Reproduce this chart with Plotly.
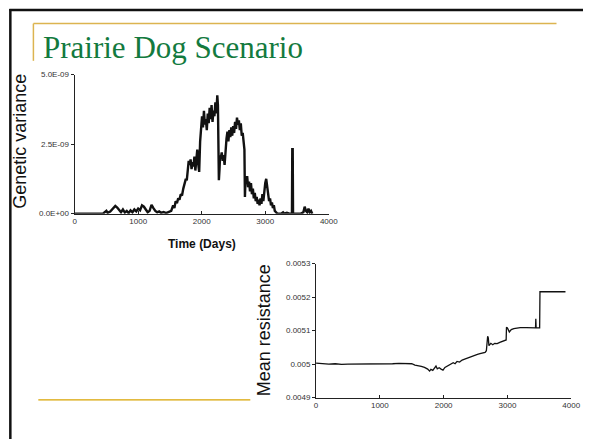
import numpy as np
import plotly.graph_objects as go

# ---- Data: Genetic variance (units of 1e-9) ----
gv_days = [0, 350, 400, 450, 500, 520, 560, 600, 640, 670, 700, 730, 760, 790, 820, 850, 880, 910, 940, 970,
           1000, 1030, 1060, 1090, 1120, 1150, 1180, 1210, 1240, 1270, 1300, 1330, 1360, 1400, 1440, 1480,
           1520, 1550, 1570, 1590, 1610, 1630, 1650, 1670, 1690, 1710, 1730, 1750, 1765, 1780, 1795, 1810,
           1825, 1840, 1855, 1870, 1885, 1900, 1915, 1930, 1945, 1960, 1975, 1990, 2005, 2020, 2035, 2050,
           2065, 2080, 2095, 2110, 2125, 2140, 2155, 2170, 2185, 2200, 2215, 2230, 2245, 2255, 2262, 2270,
           2280, 2290, 2300, 2315, 2330, 2345, 2360, 2375, 2390, 2405, 2420, 2435, 2450, 2465, 2480, 2495,
           2510, 2525, 2540, 2555, 2570, 2585, 2600, 2615, 2630, 2645, 2660, 2672, 2680, 2690, 2700, 2715,
           2730, 2745, 2760, 2775, 2790, 2805, 2820, 2835, 2850, 2865, 2880, 2895, 2910, 2925, 2940, 2955,
           2970, 2985, 3000, 3015, 3030, 3045, 3060, 3075, 3090, 3105, 3120, 3135, 3150, 3170, 3190, 3250,
           3280, 3300, 3340, 3380, 3420, 3425, 3432, 3437, 3500, 3560, 3600, 3620, 3640, 3660, 3680, 3700,
           3720, 3740]
gv_e9 = [0, 0, 0.02, 0.01, 0.1, 0.03, 0.08, 0.2, 0.28, 0.22, 0.12, 0.05, 0.15, 0.04, 0.1, 0.02, 0.12, 0.05, 0.15, 0.08,
         0.18, 0.12, 0.3, 0.25, 0.15, 0.05, 0.1, 0.32, 0.2, 0.1, 0.05, 0.08, 0.03, 0.06, 0.02, 0.05,
         0.1, 0.3, 0.2, 0.45, 0.38, 0.55, 0.5, 0.7, 0.65, 0.9, 1.05, 1.25, 1.2, 1.6, 1.9, 1.75,
         1.95, 1.6, 1.85, 1.7, 2.05, 1.55, 1.9, 2.3, 1.8, 1.5, 2.6, 3.0, 3.5, 3.1, 3.7, 3.2,
         3.4, 3.0, 3.6, 3.25, 3.8, 3.4, 3.9, 3.3, 3.7, 3.5, 4.0, 3.6, 4.25, 3.9, 3.0, 1.2,
         1.6, 2.1, 2.0, 2.2, 1.9, 2.1, 1.75, 2.3, 2.7, 2.95, 2.6, 3.0, 2.75, 3.1, 2.8, 3.15,
         2.9, 3.3, 3.05, 3.45, 3.2, 3.35, 3.0, 3.25, 2.8, 2.9, 2.4, 2.3, 0.6, 1.3, 1.1, 1.35,
         0.95, 1.15, 0.8, 1.1, 0.7, 0.9, 0.55, 0.75, 0.45, 0.6, 0.35, 0.5, 0.3, 0.55, 0.35, 0.7,
         0.45, 0.9, 1.1, 1.25, 0.9, 0.6, 0.45, 0.55, 0.3, 0.4, 0.2, 0.3, 0.1, 0.05, 0, 0,
         0.05, 0, 0.03, 0, 0, 2.32, 2.32, 0, 0, 0, 0.05, 0.25, 0.1, 0.05, 0.18, 0.05,
         0.1, 0]

# ---- Data: Mean resistance ----
mr_days = [0, 100, 200, 300, 400, 500, 600, 700, 800, 900, 1000, 1100, 1200, 1300, 1400, 1500, 1550, 1600,
           1650, 1700, 1750, 1780, 1800, 1830, 1860, 1880, 1900, 1930, 1960, 1990, 2020, 2050, 2080, 2110,
           2150, 2180, 2210, 2250, 2290, 2330, 2370, 2410, 2450, 2490, 2530, 2570, 2610, 2650, 2670, 2680,
           2690, 2700, 2710, 2740, 2770, 2800, 2840, 2880, 2920, 2960, 2980, 2985, 3000, 3030, 3060, 3100,
           3150, 3200, 3300, 3400, 3440, 3445, 3450, 3505, 3510, 3910]
mr_vals = [0.005003, 0.005001, 0.005000, 0.005001, 0.004999, 0.005000, 0.005000, 0.005001, 0.004999, 0.005000,
           0.004999, 0.005000, 0.005001, 0.005002, 0.005002, 0.005001, 0.004997, 0.004996, 0.004993, 0.004990,
           0.004985, 0.004979, 0.004984, 0.004981, 0.004988, 0.004994, 0.004986, 0.004989, 0.004985, 0.004982,
           0.004990, 0.004993, 0.004996, 0.004999, 0.005004, 0.005001, 0.005008, 0.005006, 0.005012, 0.005015,
           0.005018, 0.005022, 0.005024, 0.005027, 0.005029, 0.005031, 0.005033, 0.005035, 0.005040, 0.005060,
           0.005083, 0.005078, 0.005055, 0.005062, 0.005058, 0.005062, 0.005061, 0.005065, 0.005067, 0.005070,
           0.005072, 0.005110, 0.005108, 0.005096, 0.005103, 0.005106, 0.005108, 0.005109, 0.005109, 0.005108,
           0.005108, 0.005135, 0.005108, 0.005108, 0.005216, 0.005216]

x_ticks = [0, 1000, 2000, 3000, 4000]
gv_ticks = [0, 2.5e-9, 5e-9]
gv_ticklabels = ["0.0E+00", "2.5E-09", "5.0E-09"]
mr_ticks = [0.0049, 0.005, 0.0051, 0.0052, 0.0053]
mr_ticklabels = ["0.0049", "0.005", "0.0051", "0.0052", "0.0053"]

W, H = 592, 444
def px(x):
    return x / W
def py(y):
    return 1 - y / H

fig = go.Figure()
fig.add_trace(go.Scatter(x=gv_days, y=np.array(gv_e9) * 1e-9, mode="lines",
                         line=dict(color="#111111", width=2.4), xaxis="x", yaxis="y",
                         showlegend=False, hoverinfo="skip"))
fig.add_trace(go.Scatter(x=mr_days, y=mr_vals, mode="lines",
                         line=dict(color="#111111", width=1.3), xaxis="x2", yaxis="y2",
                         showlegend=False, hoverinfo="skip"))

tickfont = dict(family="Arial, Liberation Sans, sans-serif", size=8, color="#333333")
axis_common = dict(showgrid=False, zeroline=False, showline=True, linecolor="#222222", linewidth=1,
                   tickfont=tickfont, ticklen=3, tickcolor="#222222")

fig.update_layout(
    width=W, height=H, margin=dict(l=0, r=0, t=0, b=0),
    paper_bgcolor="white", plot_bgcolor="rgba(0,0,0,0)",
    xaxis=dict(domain=[px(74), px(333)], range=[0, 4000], tickvals=x_ticks, ticks="inside",
               anchor="y", **axis_common),
    yaxis=dict(domain=[py(214), py(72)], range=[0, 5e-9], tickvals=gv_ticks, ticktext=gv_ticklabels,
               ticks="outside", anchor="x", **axis_common),
    xaxis2=dict(domain=[px(320), px(580)], range=[0, 4000], tickvals=x_ticks, ticks="inside",
                anchor="y2", **axis_common),
    yaxis2=dict(domain=[py(401.7), py(265)], range=[0.0049, 0.0053], tickvals=mr_ticks,
                ticktext=mr_ticklabels, ticks="outside", anchor="x2", **axis_common),
)

shapes = [
    dict(type="line", xref="paper", yref="paper", x0=px(7.5), x1=1, y0=py(6), y1=py(6),
         line=dict(color="#111111", width=2.5)),
    dict(type="line", xref="paper", yref="paper", x0=px(8.5), x1=px(8.5), y0=py(5), y1=0,
         line=dict(color="#111111", width=2.5)),
    dict(type="line", xref="paper", yref="paper", x0=px(32), x1=px(565), y0=py(20), y1=py(20),
         line=dict(color="#dcb450", width=1.5)),
    dict(type="line", xref="paper", yref="paper", x0=px(32), x1=px(32), y0=py(20), y1=py(58),
         line=dict(color="#dcb450", width=1.5)),
    dict(type="line", xref="paper", yref="paper", x0=px(37), x1=px(253), y0=py(404), y1=py(404),
         line=dict(color="#d8a300", width=1.2)),
]
fig.update_layout(shapes=shapes)

annotations = [
    dict(text="Prairie Dog Scenario", x=px(40), y=py(64), xref="paper", yref="paper",
         xanchor="left", yanchor="bottom", showarrow=False,
         font=dict(family="Liberation Serif, serif", size=31, color="#137a3e")),
    dict(text="Genetic variance", x=px(18), y=py(140), xref="paper", yref="paper",
         xanchor="center", yanchor="middle", textangle=-90, showarrow=False,
         font=dict(family="Arial, Liberation Sans, sans-serif", size=18, color="#111111")),
    dict(text="<b>Time (Days)</b>", x=px(204), y=py(245), xref="paper", yref="paper",
         xanchor="center", yanchor="middle", showarrow=False,
         font=dict(family="Arial, Liberation Sans, sans-serif", size=12, color="#111111")),
    dict(text="Mean resistance", x=px(267), y=py(333), xref="paper", yref="paper",
         xanchor="center", yanchor="middle", textangle=-90, showarrow=False,
         font=dict(family="Arial, Liberation Sans, sans-serif", size=18, color="#111111")),
]
fig.update_layout(annotations=annotations)

fig.write_html(
    "out.html",
    config={"displayModeBar": False},
    post_script="document.body.style.margin='0';document.body.style.overflow='hidden';",
)
